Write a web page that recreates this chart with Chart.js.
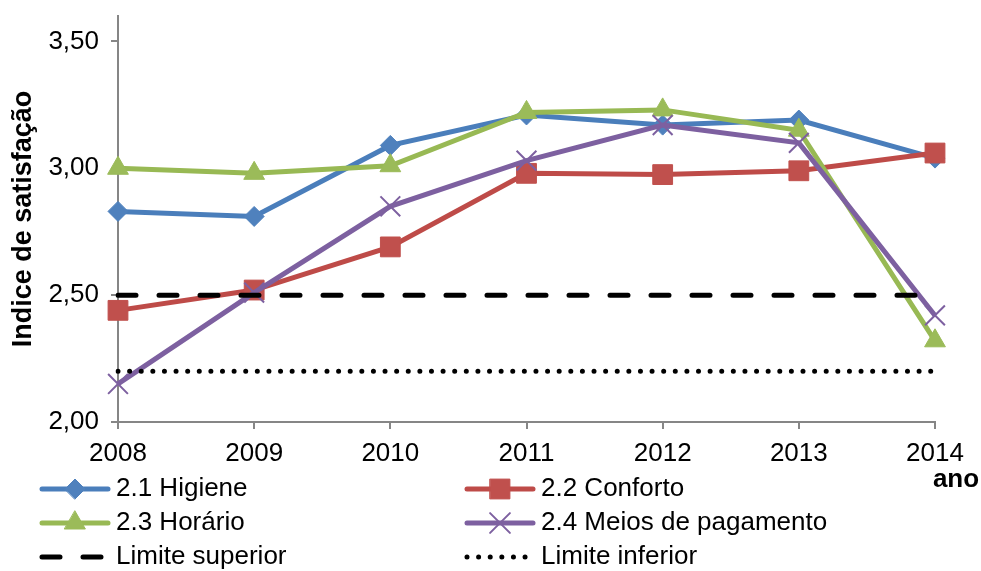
<!doctype html>
<html lang="pt">
<head>
<meta charset="utf-8">
<title>Indice de satisfação</title>
<script src="https://cdn.jsdelivr.net/npm/chart.js"></script>
<style>
  html, body { margin: 0; padding: 0; background: #fff; }
</style>
</head>
<body>
<canvas id="myChart" width="981" height="571"></canvas>
<script>
// valores
const anos = ['2008', '2009', '2010', '2011', '2012', '2013', '2014'];
const higiene = [2.83, 2.81, 3.09, 3.21, 3.17, 3.19, 3.04];
const conforto = [2.44, 2.52, 2.69, 2.98, 2.975, 2.99, 3.06];
const horario = [3.00, 2.98, 3.01, 3.22, 3.23, 3.15, 2.32];
const meiosPagamento = [2.15, 2.51, 2.85, 3.03, 3.17, 3.10, 2.42];
const limiteSuperior = [2.5, 2.5, 2.5, 2.5, 2.5, 2.5, 2.5];
const limiteInferior = [2.2, 2.2, 2.2, 2.2, 2.2, 2.2, 2.2];
const yTicks = [2.0, 2.5, 3.0, 3.5];

const FONT = '"Liberation Sans", Arial, sans-serif';
const AXIS = '#868686';

function serie(label, data, line, fill, style, radius, i) {
  return {
    label: label,
    data: data,
    borderColor: line,
    backgroundColor: fill,
    borderWidth: 5,
    pointStyle: style,
    pointRadius: radius,
    pointHoverRadius: radius,
    pointBackgroundColor: fill,
    pointBorderColor: style === 'crossRot' ? line : fill,
    pointBorderWidth: style === 'crossRot' ? 2 : 1,
    tension: 0,
    order: 10 - i
  };
}

const datasets = [
  serie('2.1 Higiene', higiene, '#4A7EBB', '#4F81BD', 'rectRot', 10, 0),
  serie('2.2 Conforto', conforto, '#BE4B48', '#C0504D', 'rect', 14, 1),
  serie('2.3 Horário', horario, '#98B954', '#9BBB59', 'triangle', 12, 2),
  serie('2.4 Meios de pagamento', meiosPagamento, '#7D60A0', '#8064A2', 'crossRot', 14, 3),
  {
    label: 'Limite superior', data: limiteSuperior, borderColor: '#000', backgroundColor: '#000',
    borderWidth: 5, borderDash: [18, 23], borderCapStyle: 'round', pointRadius: 0, order: 4
  },
  {
    label: 'Limite inferior', data: limiteInferior, borderColor: '#000', backgroundColor: '#000',
    borderWidth: 5, borderDash: [0.01, 11.6], borderCapStyle: 'round', pointRadius: 0, order: 3
  }
];

// legenda em duas colunas + rotulo "ano"
const legendaPlugin = {
  id: 'legenda',
  afterDraw(chart) {
    const ctx = chart.ctx;
    const cols = [40, 465];
    const rows = [489, 523, 557];
    ctx.save();
    chart.data.datasets.forEach((ds, i) => {
      const x0 = cols[i % 2];
      const y = rows[Math.floor(i / 2)];
      ctx.strokeStyle = ds.borderColor;
      ctx.lineWidth = ds.borderWidth;
      ctx.lineCap = 'round';
      ctx.setLineDash(ds.borderDash || []);
      ctx.beginPath();
      ctx.moveTo(x0 + 2, y);
      ctx.lineTo(x0 + 68, y);
      ctx.stroke();
      ctx.setLineDash([]);
      if (ds.pointRadius) {
        ctx.fillStyle = ds.pointBackgroundColor;
        ctx.strokeStyle = ds.pointBorderColor;
        ctx.lineWidth = ds.pointBorderWidth;
        Chart.helpers.drawPoint(ctx, {
          pointStyle: ds.pointStyle, radius: ds.pointRadius, rotation: 0, borderWidth: ds.pointBorderWidth
        }, x0 + 35, y);
      }
      ctx.fillStyle = '#000';
      ctx.font = '26px ' + FONT;
      ctx.textBaseline = 'middle';
      ctx.textAlign = 'left';
      ctx.fillText(ds.label, x0 + 76, y);
    });
    ctx.font = 'bold 26px ' + FONT;
    ctx.textAlign = 'center';
    ctx.fillText('ano', 956, 480);
    ctx.restore();
  }
};

new Chart(document.getElementById('myChart'), {
  type: 'line',
  data: { labels: anos, datasets: datasets },
  options: {
    responsive: false,
    animation: false,
    devicePixelRatio: 1,
    layout: { padding: { left: 0, right: 46, top: 14, bottom: 0 } },
    plugins: { legend: { display: false }, tooltip: { enabled: false } },
    scales: {
      x: {
        offset: false,
        grid: { display: true, drawOnChartArea: false, drawTicks: true, tickLength: 7, color: AXIS, lineWidth: 2, offset: false },
        border: { color: AXIS, width: 2 },
        ticks: { color: '#000', font: { family: FONT, size: 26 }, padding: 9, maxRotation: 0, autoSkip: false },
        afterFit(scale) { scale.height = 149; }
      },
      y: {
        min: 2.0,
        max: 3.6,
        afterBuildTicks(scale) { scale.ticks = yTicks.map(v => ({ value: v })); },
        grid: { display: true, drawOnChartArea: false, drawTicks: true, tickLength: 7, color: AXIS, lineWidth: 2 },
        border: { color: AXIS, width: 2 },
        ticks: {
          color: '#000', font: { family: FONT, size: 26 }, padding: 12,
          callback: v => v.toFixed(2).replace('.', ',')
        },
        title: {
          display: true, text: 'Indice de satisfação', color: '#000',
          font: { family: FONT, size: 27, weight: 'bold' }, padding: { top: 7, bottom: 0 }
        },
        afterFit(scale) {
          scale.width = 118;
          scale.paddingTop = 0;
          scale.paddingBottom = 0;
        }
      }
    }
  },
  plugins: [legendaPlugin]
});
</script>
</body>
</html>
